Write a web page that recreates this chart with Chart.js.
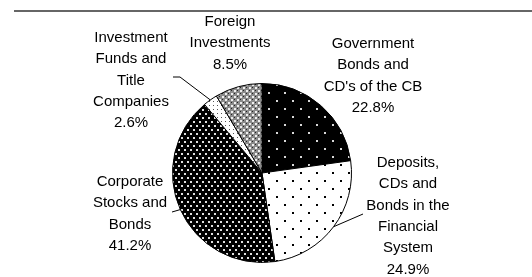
<!DOCTYPE html>
<html>
<head>
<meta charset="utf-8">
<script src="https://cdn.jsdelivr.net/npm/chart.js@4/dist/chart.umd.min.js"></script>
<style>
  html, body { margin: 0; padding: 0; background: #fff; }
  #wrap { width: 532px; height: 277px; position: relative; }
</style>
</head>
<body>
<div id="wrap"><canvas id="myChart"></canvas></div>
<script>
// data
var categories = [
  ['Government', 'Bonds and', "CD's of the CB"],
  ['Deposits,', 'CDs and', 'Bonds in the', 'Financial', 'System'],
  ['Corporate', 'Stocks and', 'Bonds'],
  ['Investment', 'Funds and', 'Title', 'Companies'],
  ['Foreign', 'Investments']
];
var shares = [22.8, 24.9, 41.2, 2.6, 8.5];

// where each label block sits (centre x, first line y) and optional leader elbow
var labelPlace = [
  { x: 373, y: 44, elbow: null },
  { x: 408, y: 163, elbow: [363, 214] },
  { x: 130, y: 182, elbow: [172, 212] },
  { x: 131, y: 38, elbow: [180, 77], tail: [173, 77] },
  { x: 230, y: 22, elbow: null }
];

function makePattern(w, h, bg, draw) {
  var c = document.createElement('canvas');
  c.width = w; c.height = h;
  var g = c.getContext('2d');
  g.fillStyle = bg;
  g.fillRect(0, 0, w, h);
  draw(g);
  return document.createElement('canvas').getContext('2d').createPattern(c, 'repeat');
}

// black, sparse light dots
var patGov = makePattern(16, 16, '#000', function (g) {
  g.fillStyle = '#d8d8d8';
  g.fillRect(4, 4, 2, 2);
  g.fillRect(12, 12, 2, 2);
});
// white, sparse black dots
var patDep = makePattern(16, 16, '#fff', function (g) {
  g.fillStyle = '#000';
  g.fillRect(4, 4, 2, 2);
  g.fillRect(12, 12, 2, 2);
});
// black, dense light dots
var patCorp = makePattern(6, 8, '#000', function (g) {
  g.fillStyle = '#e0e0e0';
  g.fillRect(1, 1, 2, 2);
  g.fillRect(4, 5, 2, 2);
});
// white, small black dots
var patInv = makePattern(4, 4, '#fff', function (g) {
  g.fillStyle = '#555';
  g.fillRect(1, 1, 1, 1);
});
// grey checker
var patFor = makePattern(6, 6, '#8a8a8a', function (g) {
  g.fillStyle = '#f0f0f0';
  g.fillRect(0, 0, 2, 2);
  g.fillRect(3, 3, 2, 2);
  g.fillStyle = '#222';
  g.fillRect(3, 0, 1, 1);
  g.fillRect(0, 3, 1, 1);
});

var labelPlugin = {
  id: 'labelPlugin',
  afterDraw: function (chart) {
    var ctx = chart.ctx;
    ctx.save();
    // rule at top
    ctx.strokeStyle = '#333';
    ctx.lineWidth = 1.5;
    ctx.beginPath();
    ctx.moveTo(14, 11);
    ctx.lineTo(532, 11);
    ctx.stroke();

    var meta = chart.getDatasetMeta(0);
    ctx.font = '15px "Liberation Sans", Arial, sans-serif';
    ctx.fillStyle = '#000';
    ctx.textAlign = 'center';
    ctx.textBaseline = 'middle';
    meta.data.forEach(function (arc, i) {
      var p = labelPlace[i];
      var lines = categories[i].concat([shares[i].toFixed(1) + '%']);
      lines.forEach(function (t, k) {
        ctx.fillText(t, p.x, p.y + k * 21.3);
      });
      if (p.elbow) {
        var mid = (arc.startAngle + arc.endAngle) / 2;
        var ex = arc.x + Math.cos(mid) * arc.outerRadius;
        var ey = arc.y + Math.sin(mid) * arc.outerRadius;
        ctx.strokeStyle = '#000';
        ctx.lineWidth = 1;
        ctx.beginPath();
        ctx.moveTo(ex, ey);
        ctx.lineTo(p.elbow[0], p.elbow[1]);
        if (p.tail) ctx.lineTo(p.tail[0], p.tail[1]);
        ctx.stroke();
      }
    });
    ctx.restore();
  }
};

const ctx = document.getElementById('myChart').getContext('2d');
const myChart = new Chart(ctx, {
  type: 'pie',
  data: {
    labels: categories.map(function (c) { return c.join(' '); }),
    datasets: [{
      data: shares,
      backgroundColor: [patGov, patDep, patCorp, patInv, patFor],
      borderColor: '#000',
      borderWidth: 1
    }]
  },
  options: {
    responsive: true,
    maintainAspectRatio: false,
    animation: false,
    layout: { padding: { left: 172, right: 180, top: 83, bottom: 14 } },
    plugins: {
      legend: { display: false },
      tooltip: { enabled: false },
      title: { display: false }
    }
  },
  plugins: [labelPlugin]
});
</script>
</body>
</html>
